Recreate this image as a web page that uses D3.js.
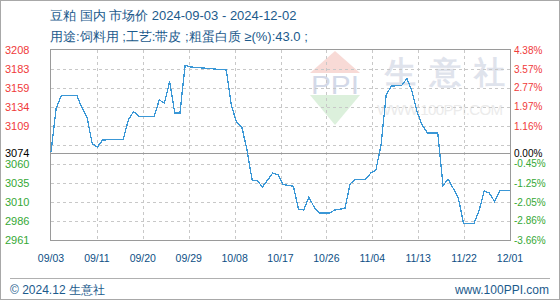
<!DOCTYPE html>
<html>
<head>
<meta charset="utf-8">
<script src="https://cdn.jsdelivr.net/npm/d3@7"></script>
<style>
  body { margin: 0; background: #fff; }
  #chart { width: 560px; height: 300px; }
  text { font-family: "Liberation Sans", Arial, sans-serif; }
</style>
</head>
<body>
<div id="chart"></div>
<script>
(function(){

// data
var dates = ["2024-09-03","2024-09-04","2024-09-05","2024-09-08","2024-09-09","2024-09-10","2024-09-11","2024-09-12",
    "2024-09-13","2024-09-17","2024-09-18","2024-09-19","2024-09-20","2024-09-23","2024-09-24","2024-09-25",
    "2024-09-26","2024-09-27","2024-09-28","2024-09-29","2024-09-30","2024-10-07","2024-10-08","2024-10-09",
    "2024-10-10","2024-10-11","2024-10-12","2024-10-13","2024-10-14","2024-10-15","2024-10-16","2024-10-17",
    "2024-10-18","2024-10-20","2024-10-21","2024-10-22","2024-10-23","2024-10-24","2024-10-25","2024-10-27",
    "2024-10-28","2024-10-30","2024-10-31","2024-11-01","2024-11-03","2024-11-04","2024-11-05","2024-11-06",
    "2024-11-07","2024-11-08","2024-11-10","2024-11-11","2024-11-12","2024-11-13","2024-11-14","2024-11-15",
    "2024-11-17","2024-11-18","2024-11-19","2024-11-20","2024-11-21","2024-11-22","2024-11-24","2024-11-25",
    "2024-11-26","2024-11-27","2024-11-28","2024-11-29","2024-12-01"];
var prices = [3075,3132,3149,3149,3133,3120,3086,3082,
    3091,3092,3117,3128,3122,3122,3143,3139,
    3167,3126,3126,3188,3186,3182,3135,3114,
    3108,3078,3039,3038,3030,3039,3048,3046,
    3033,3031,3001,3000,3017,3004,2996,2996,
    3000,3002,3034,3040,3040,3048,3052,3085,
    3150,3161,3162,3171,3154,3127,3110,3100,
    3100,3032,3040,3028,3015,2982,2982,2999,
    3025,3022,3011,3025,3025];

var xLabels = ["09/03","09/11","09/20","09/29","10/08","10/17","10/26","11/04","11/13","11/22","12/01"];
var leftLabels = ["3208","3183","3159","3134","3109","3074","3060","3035","3010","2986","2961"];
var rightLabels = ["4.38%","3.57%","2.77%","1.97%","1.16%","0.00%","-0.45%","-1.25%","-2.05%","-2.86%","-3.66%"];
var basePrice = 3074;
var yMin = 2961, yMax = 3208;

var title = "豆粕 国内 市场价 2024-09-03 - 2024-12-02";
var subtitle = "用途:饲料用 ;工艺:带皮 ;粗蛋白质 ≥(%):43.0 ;";

var width = 560, height = 300;
var left = 51, right = 510, top = 50, bottom = 240;

var svg = d3.select("#chart").append("svg")
    .attr("width", width)
    .attr("height", height);

var parse = d3.utcParse("%Y-%m-%d");
var data = dates.map(function(d, i){ return {date: parse(d), value: prices[i]}; });

var x = d3.scaleUtc()
    .domain([parse("2024-09-03"), parse("2024-12-01")])
    .range([left, right]);

var xTick = d3.scalePoint()
    .domain(xLabels)
    .range([left, right]);

var y = d3.scaleLinear()
    .domain([yMin, yMax])
    .range([bottom, top]);

//outer frame
svg.append("rect")
    .attr("x", 0.5).attr("y", 0.5)
    .attr("width", width - 1).attr("height", height - 1)
    .attr("fill", "none")
    .attr("stroke", "#a8a8a8");

//titles
svg.append("text")
    .attr("x", 50).attr("y", 20)
    .attr("font-size", 13)
    .attr("fill", "#1b5a8c")
    .attr("font-family", "'Noto Sans CJK SC', sans-serif")
    .text(title);

svg.append("text")
    .attr("x", 50).attr("y", 41)
    .attr("font-size", 13)
    .attr("fill", "#1b5a8c")
    .attr("font-family", "'Noto Sans CJK SC', sans-serif")
    .text(subtitle);

//watermark
var wm = svg.append("g").attr("class", "watermark");
wm.append("path")
    .attr("d", "M310,73 L335,51 L360,73 Z")
    .attr("fill", "#f8dad6");
wm.append("path")
    .attr("d", "M310,95 L360,95 L335,125 Z")
    .attr("fill", "#dcf0dc");
wm.append("text")
    .attr("x", 311).attr("y", 94)
    .attr("font-size", 25)
    .attr("font-family", "'Liberation Serif', serif")
    .attr("fill", "#d3d9e8")
    .attr("textLength", 48)
    .attr("lengthAdjust", "spacingAndGlyphs")
    .text("PPI");
wm.append("text")
    .attr("x", 385).attr("y", 83)
    .attr("font-size", 31)
    .attr("font-family", "'Noto Sans CJK SC', sans-serif")
    .attr("font-weight", "bold")
    .attr("fill", "#dfe3ec")
    .attr("textLength", 120)
    .text("生意社");
wm.append("text")
    .attr("x", 377).attr("y", 115)
    .attr("font-size", 15)
    .attr("fill", "#ebebeb")
    .attr("textLength", 126)
    .text("WWW.100PPI.COM");

//grid
var step = (yMax - yMin) / 10;
var gridVals = d3.range(0, 11).map(function(i){ return yMin + i * step; });

svg.selectAll(".hgrid")
    .data(gridVals.slice(1, 10))
    .enter()
    .append("line")
    .attr("class", "hgrid")
    .attr("x1", left).attr("x2", right)
    .attr("y1", function(d){ return Math.round(y(d)) + 0.5; })
    .attr("y2", function(d){ return Math.round(y(d)) + 0.5; })
    .attr("stroke", "#c8c8c8")
    .attr("stroke-dasharray", "3,3")
    .attr("shape-rendering", "crispEdges");

svg.selectAll(".vgrid")
    .data(xLabels.slice(1, 10))
    .enter()
    .append("line")
    .attr("class", "vgrid")
    .attr("x1", function(d){ return Math.round(xTick(d)) + 0.5; })
    .attr("x2", function(d){ return Math.round(xTick(d)) + 0.5; })
    .attr("y1", top).attr("y2", bottom)
    .attr("stroke", "#c8c8c8")
    .attr("stroke-dasharray", "3,3")
    .attr("shape-rendering", "crispEdges");

//plot frame
svg.append("rect")
    .attr("x", left - 0.5).attr("y", top - 0.5)
    .attr("width", right - left + 1).attr("height", bottom - top + 1)
    .attr("fill", "none")
    .attr("stroke", "#9a9a9a")
    .attr("stroke-width", 1.5)
    .attr("shape-rendering", "crispEdges");

//base line
svg.append("line")
    .attr("x1", left).attr("x2", right)
    .attr("y1", Math.round(y(basePrice)) + 0.5)
    .attr("y2", Math.round(y(basePrice)) + 0.5)
    .attr("stroke", "#9a9a9a")
    .attr("stroke-width", 1.5)
    .attr("shape-rendering", "crispEdges");

//price line
var line = d3.line()
    .x(function(d){ return x(d.date); })
    .y(function(d){ return y(d.value); });

svg.append("path")
    .datum(data)
    .attr("d", line)
    .attr("fill", "none")
    .attr("stroke", "#3a97d6")
    .attr("stroke-width", 1.3)
    .attr("shape-rendering", "crispEdges");

//axis labels
function labelColor(v){
    if (v > basePrice) return "#f03a3a";
    if (v < basePrice) return "#35a835";
    return "#000";
}

svg.selectAll(".ylab")
    .data(leftLabels)
    .enter()
    .append("text")
    .attr("class", "ylab")
    .attr("x", 5)
    .attr("y", function(d){ return y(+d); })
    .attr("dy", "0.35em")
    .attr("font-size", 11)
    .attr("fill", function(d){ return labelColor(+d); })
    .text(function(d){ return d; });

svg.selectAll(".rlab")
    .data(rightLabels)
    .enter()
    .append("text")
    .attr("class", "rlab")
    .attr("x", 514)
    .attr("y", function(d, i){ return y(+leftLabels[i]); })
    .attr("dy", "0.35em")
    .attr("font-size", 10)
    .attr("font-family", "'Liberation Mono', monospace")
    .attr("fill", function(d, i){ return labelColor(+leftLabels[i]); })
    .text(function(d){ return d; });

svg.selectAll(".xlab")
    .data(xLabels)
    .enter()
    .append("text")
    .attr("class", "xlab")
    .attr("x", function(d){ return xTick(d); })
    .attr("y", 262)
    .attr("text-anchor", "middle")
    .attr("font-size", 10.5)
    .attr("font-family", "'Liberation Mono', monospace")
    .attr("fill", "#0d4f85")
    .text(function(d){ return d; });

//footer
svg.append("line")
    .attr("x1", 10).attr("x2", 550)
    .attr("y1", 278.5).attr("y2", 278.5)
    .attr("stroke", "#b0b0b0");

svg.append("text")
    .attr("x", 10).attr("y", 294)
    .attr("font-size", 12)
    .attr("fill", "#1b5a8c")
    .attr("font-family", "'Noto Sans CJK SC', sans-serif")
    .text("© 2024.12 生意社");

svg.append("text")
    .attr("x", 549).attr("y", 294)
    .attr("text-anchor", "end")
    .attr("font-size", 12)
    .attr("fill", "#1b5a8c")
    .text("www.100PPI.com");

})();
</script>
</body>
</html>
